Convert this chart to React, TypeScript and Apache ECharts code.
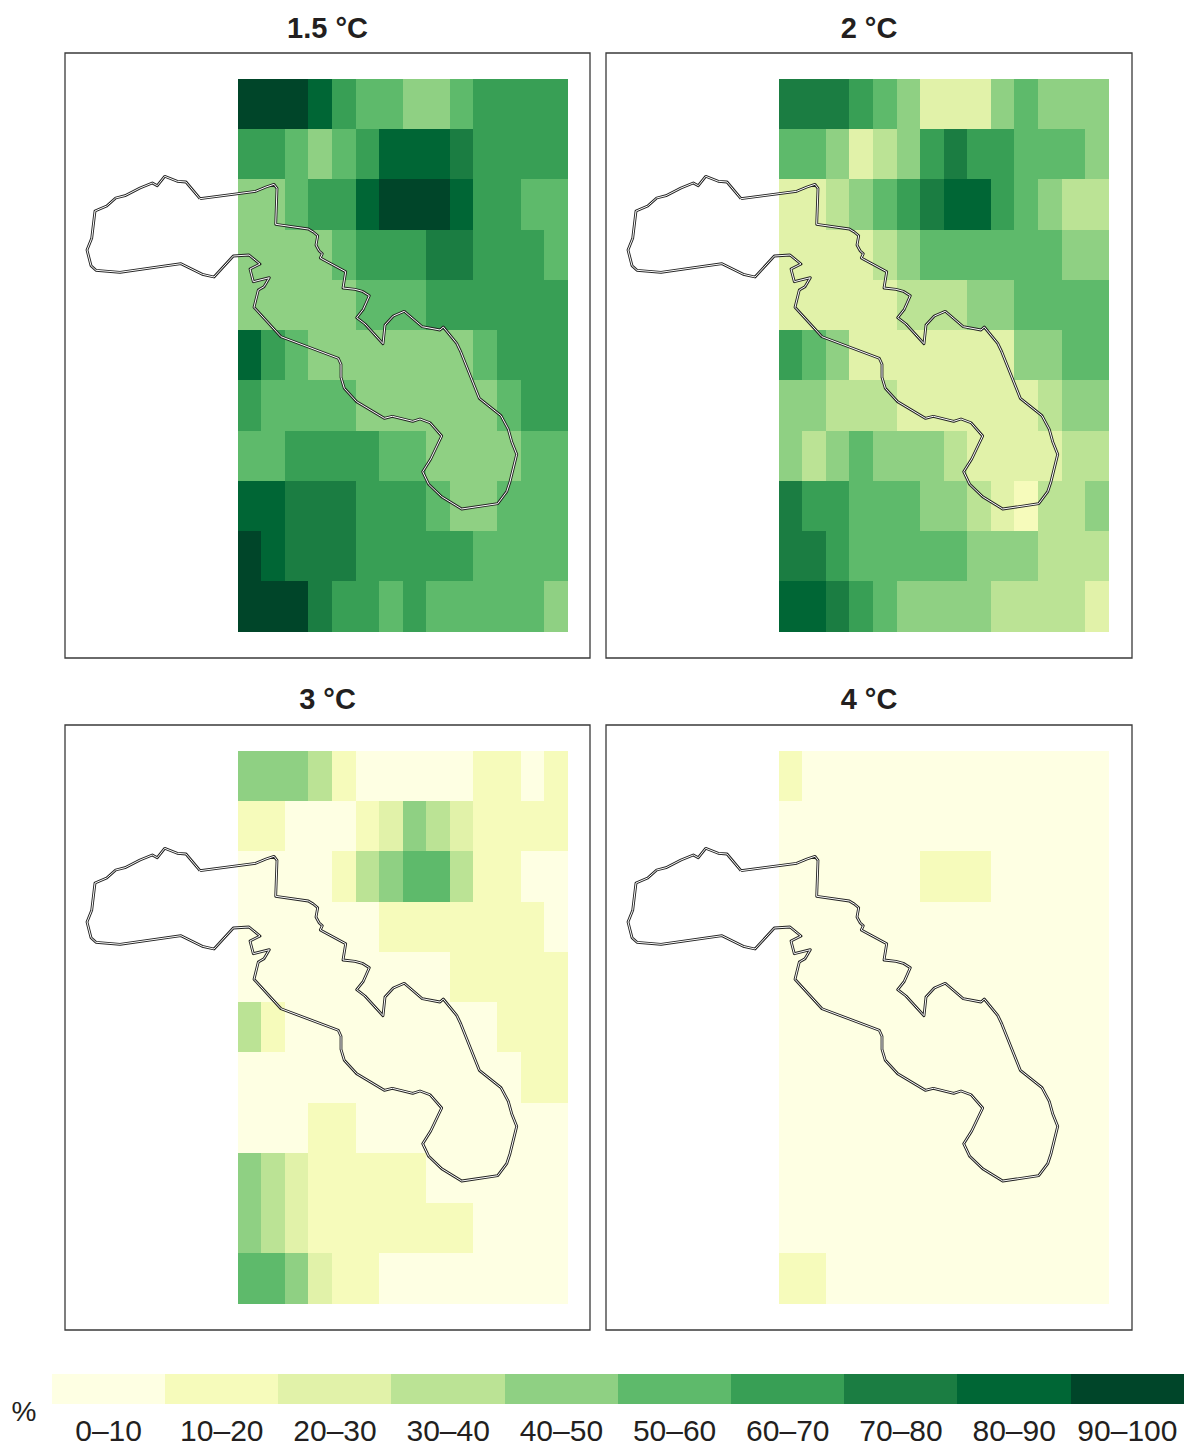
import React, { useEffect, useRef } from "react";
import * as echarts from "echarts";

const PANEL_TITLES = ["1.5 °C", "2 °C", "3 °C", "4 °C"];
const LEGEND_LABELS = ["0–10", "10–20", "20–30", "30–40", "40–50", "50–60", "60–70", "70–80", "80–90", "90–100"];
const LEGEND_VALUES = [5, 15, 25, 35, 45, 55, 65, 75, 85, 95];
const CLASS_COLORS = ["#feffe3", "#f6fbbb", "#e1f2a9", "#bbe395", "#8fd083", "#5eba6b", "#389f55", "#1b7d42", "#006635", "#004529"];

// Percentages per cell (class mid-points); rows top to bottom.
const VALUES_15 = [
  [95, 95, 95, 85, 65, 55, 55, 45, 45, 55, 65, 65, 65, 65],
  [65, 65, 55, 45, 55, 65, 85, 85, 85, 75, 65, 65, 65, 65],
  [45, 45, 55, 65, 65, 85, 95, 95, 95, 85, 65, 65, 55, 55],
  [45, 45, 45, 45, 55, 65, 65, 65, 75, 75, 65, 65, 65, 55],
  [45, 45, 45, 45, 45, 55, 55, 55, 65, 65, 65, 65, 65, 65],
  [85, 65, 55, 45, 45, 45, 45, 45, 45, 45, 55, 65, 65, 65],
  [65, 55, 55, 55, 55, 45, 45, 45, 45, 45, 45, 55, 65, 65],
  [55, 55, 65, 65, 65, 65, 55, 55, 45, 45, 45, 45, 55, 55],
  [85, 85, 75, 75, 75, 65, 65, 65, 55, 45, 45, 55, 55, 55],
  [95, 85, 75, 75, 75, 65, 65, 65, 65, 65, 55, 55, 55, 55],
  [95, 95, 95, 75, 65, 65, 55, 65, 55, 55, 55, 55, 55, 45],
];
const VALUES_2 = [
  [75, 75, 75, 65, 55, 45, 25, 25, 25, 45, 55, 45, 45, 45],
  [55, 55, 45, 25, 35, 45, 65, 75, 65, 65, 55, 55, 55, 45],
  [25, 25, 35, 45, 55, 65, 75, 85, 85, 65, 55, 45, 35, 35],
  [25, 25, 25, 25, 35, 45, 55, 55, 55, 55, 55, 55, 45, 45],
  [25, 25, 25, 25, 25, 35, 35, 35, 45, 45, 55, 55, 55, 55],
  [65, 55, 45, 25, 25, 25, 25, 25, 25, 25, 45, 45, 55, 55],
  [45, 45, 35, 35, 35, 25, 25, 25, 25, 25, 25, 35, 45, 45],
  [45, 35, 45, 55, 45, 45, 45, 35, 25, 25, 25, 25, 35, 35],
  [75, 65, 65, 55, 55, 55, 45, 45, 35, 25, 15, 35, 35, 45],
  [75, 75, 65, 55, 55, 55, 55, 55, 45, 45, 45, 35, 35, 35],
  [85, 85, 75, 65, 55, 45, 45, 45, 45, 35, 35, 35, 35, 25],
];
const VALUES_3 = [
  [45, 45, 45, 35, 15, 5, 5, 5, 5, 5, 15, 15, 5, 15],
  [15, 15, 5, 5, 5, 15, 25, 45, 35, 25, 15, 15, 15, 15],
  [5, 5, 5, 5, 15, 35, 45, 55, 55, 35, 15, 15, 5, 5],
  [5, 5, 5, 5, 5, 5, 15, 15, 15, 15, 15, 15, 15, 5],
  [5, 5, 5, 5, 5, 5, 5, 5, 5, 15, 15, 15, 15, 15],
  [35, 15, 5, 5, 5, 5, 5, 5, 5, 5, 5, 15, 15, 15],
  [5, 5, 5, 5, 5, 5, 5, 5, 5, 5, 5, 5, 15, 15],
  [5, 5, 5, 15, 15, 5, 5, 5, 5, 5, 5, 5, 5, 5],
  [45, 35, 25, 15, 15, 15, 15, 15, 5, 5, 5, 5, 5, 5],
  [45, 35, 25, 15, 15, 15, 15, 15, 15, 15, 5, 5, 5, 5],
  [55, 55, 45, 25, 15, 15, 5, 5, 5, 5, 5, 5, 5, 5],
];
const VALUES_4 = [
  [15, 5, 5, 5, 5, 5, 5, 5, 5, 5, 5, 5, 5, 5],
  [5, 5, 5, 5, 5, 5, 5, 5, 5, 5, 5, 5, 5, 5],
  [5, 5, 5, 5, 5, 5, 15, 15, 15, 5, 5, 5, 5, 5],
  [5, 5, 5, 5, 5, 5, 5, 5, 5, 5, 5, 5, 5, 5],
  [5, 5, 5, 5, 5, 5, 5, 5, 5, 5, 5, 5, 5, 5],
  [5, 5, 5, 5, 5, 5, 5, 5, 5, 5, 5, 5, 5, 5],
  [5, 5, 5, 5, 5, 5, 5, 5, 5, 5, 5, 5, 5, 5],
  [5, 5, 5, 5, 5, 5, 5, 5, 5, 5, 5, 5, 5, 5],
  [5, 5, 5, 5, 5, 5, 5, 5, 5, 5, 5, 5, 5, 5],
  [5, 5, 5, 5, 5, 5, 5, 5, 5, 5, 5, 5, 5, 5],
  [15, 15, 5, 5, 5, 5, 5, 5, 5, 5, 5, 5, 5, 5],
];
const PANEL_VALUES = [VALUES_15, VALUES_2, VALUES_3, VALUES_4];

// Region outline, in map units of the frame's axes.
const OUTLINE: number[][] = [
  [200, 198.7], [255.7, 191.3], [266, 187], [274, 184.3], [277, 188.3], [275.7, 224.3], [308.3, 229],
  [313.3, 232], [317.7, 235.7], [316, 245], [319, 250.7], [322.3, 253.7], [320.3, 258], [345.7, 271.7],
  [343, 288], [355, 289.3], [362.3, 291.3], [369.3, 295.7], [363.3, 309.3], [356.7, 317.7], [365, 324],
  [383, 343.7], [385, 325], [393.3, 316], [404.3, 311.3], [422.3, 326.7], [440, 330], [443.3, 327],
  [456.7, 343.3], [460.7, 351.7], [479.3, 398.3], [501, 415.7], [508.3, 429.3], [511.7, 441.7],
  [516.7, 454.3], [510, 481.7], [506.7, 491.7], [497.7, 503.7], [461.7, 509], [441.7, 496.7],
  [428.7, 484.3], [422.7, 471.7], [430.7, 459], [441.7, 436], [430, 422.7], [420, 419], [412.7, 421.3],
  [392.3, 416.3], [384.3, 418.3], [356.7, 401.7], [344.3, 388.3], [341, 377.3], [341, 364.3],
  [338.3, 358.3], [281, 336.7], [254, 307.3], [258.3, 290], [264, 286.7], [269.3, 277.7], [253.3, 281.7],
  [250, 269], [260, 264], [249, 255], [233.3, 256], [214, 277], [202.3, 274.3], [181, 263.7],
  [120, 272.3], [96, 270.3], [91, 265.7], [87, 250], [91.7, 238.3], [95, 211], [106.7, 206],
  [115.7, 198], [125, 195.7], [140, 188], [152.3, 183], [157.3, 185.7], [164.7, 176.3], [177.3, 181.3],
  [186, 182], [200, 198.7],
];
const MAP_X_RANGE = [65, 590];
const MAP_Y_RANGE = [53, 658];

const COLS = VALUES_15[0].map((_, i) => String(i));
const ROWS = VALUES_15.map((_, i) => String(i));
const FONT = "'Liberation Sans', Arial, sans-serif";
const INK = "#231f20";

const FRAMES = [
  { left: 65, top: 53 },
  { left: 606, top: 53 },
  { left: 65, top: 725 },
  { left: 606, top: 725 },
];

function buildOption() {
  const grid: any[] = [];
  const xAxis: any[] = [];
  const yAxis: any[] = [];
  const series: any[] = [];
  const title: any[] = [];
  const heatIndices: number[] = [];

  FRAMES.forEach((f, i) => {
    const frameIdx = grid.length;
    grid.push({ left: f.left, top: f.top, width: i % 2 ? 526 : 525, height: 605, show: true, borderColor: "#3a3a3a", borderWidth: 1.3, backgroundColor: "none", z: 0 });
    xAxis.push({ type: "value", gridIndex: frameIdx, min: MAP_X_RANGE[0], max: MAP_X_RANGE[1] + (i % 2 ? 1 : 0), show: false });
    yAxis.push({ type: "value", gridIndex: frameIdx, min: MAP_Y_RANGE[0], max: MAP_Y_RANGE[1], inverse: true, show: false });

    const heatIdx = grid.length;
    grid.push({ left: f.left + 173, top: f.top + 26, width: 330, height: 553 });
    xAxis.push({ type: "category", gridIndex: heatIdx, data: COLS, show: false });
    yAxis.push({ type: "category", gridIndex: heatIdx, data: ROWS, inverse: true, show: false });

    const cells: number[][] = [];
    PANEL_VALUES[i].forEach((row, r) => row.forEach((v, c) => cells.push([c, r, v])));
    heatIndices.push(series.length);
    series.push({ type: "heatmap", xAxisIndex: heatIdx, yAxisIndex: heatIdx, data: cells, z: 2, itemStyle: { borderWidth: 0, opacity: 1 }, emphasis: { disabled: true } });
    series.push({ type: "line", xAxisIndex: frameIdx, yAxisIndex: frameIdx, data: OUTLINE, showSymbol: false, symbol: "none", clip: false, z: 3, lineStyle: { color: "#222222", width: 2.8, join: "round" } });
    series.push({ type: "line", xAxisIndex: frameIdx, yAxisIndex: frameIdx, data: OUTLINE, showSymbol: false, symbol: "none", clip: false, z: 4, lineStyle: { color: "#ffffff", width: 1, join: "round" } });

    title.push({ text: PANEL_TITLES[i], padding: 0, left: f.left + (i % 2 ? 263 : 262.5), top: i < 2 ? 13 : 684, textAlign: "center", textStyle: { fontFamily: FONT, fontSize: 29, fontWeight: "bold", color: INK } });
  });

  const legendIdx = grid.length;
  grid.push({ left: 52, top: 1374, width: 1132, height: 30 });
  xAxis.push({
    type: "category", gridIndex: legendIdx, data: LEGEND_LABELS,
    axisLine: { show: false }, axisTick: { show: false },
    axisLabel: { interval: 0, margin: 11, fontFamily: FONT, fontSize: 30, color: INK, hideOverlap: false },
  });
  yAxis.push({ type: "category", gridIndex: legendIdx, data: ["%"], show: false });
  heatIndices.push(series.length);
  series.push({ type: "heatmap", xAxisIndex: legendIdx, yAxisIndex: legendIdx, data: LEGEND_VALUES.map((v, i) => [i, 0, v]), z: 2, itemStyle: { borderWidth: 0, opacity: 1 }, emphasis: { disabled: true } });

  return {
    animation: false,
    backgroundColor: "#ffffff",
    title, grid, xAxis, yAxis, series,
    visualMap: {
      type: "piecewise", show: false, seriesIndex: heatIndices, dimension: 2,
      pieces: CLASS_COLORS.map((color, i) => ({ min: i * 10, max: (i + 1) * 10, color })),
    },
    graphic: [{ type: "text", x: 24, y: 1411, style: { text: "%", fontFamily: FONT, fontSize: 28, fill: INK, textAlign: "center", textVerticalAlign: "middle" } }],
  };
}

export default function App() {
  const ref = useRef<HTMLDivElement>(null);
  useEffect(() => {
    const chart = echarts.init(ref.current!, undefined, { renderer: "svg" });
    chart.setOption(buildOption() as any);
    return () => chart.dispose();
  }, []);
  return (
    <>
      <style>{`svg path:not([fill="none"]) { shape-rendering: crispEdges; }`}</style>
      <div ref={ref} style={{ position: "absolute", left: 0, top: 0, width: 1184, height: 1446 }} />
    </>
  );
}
